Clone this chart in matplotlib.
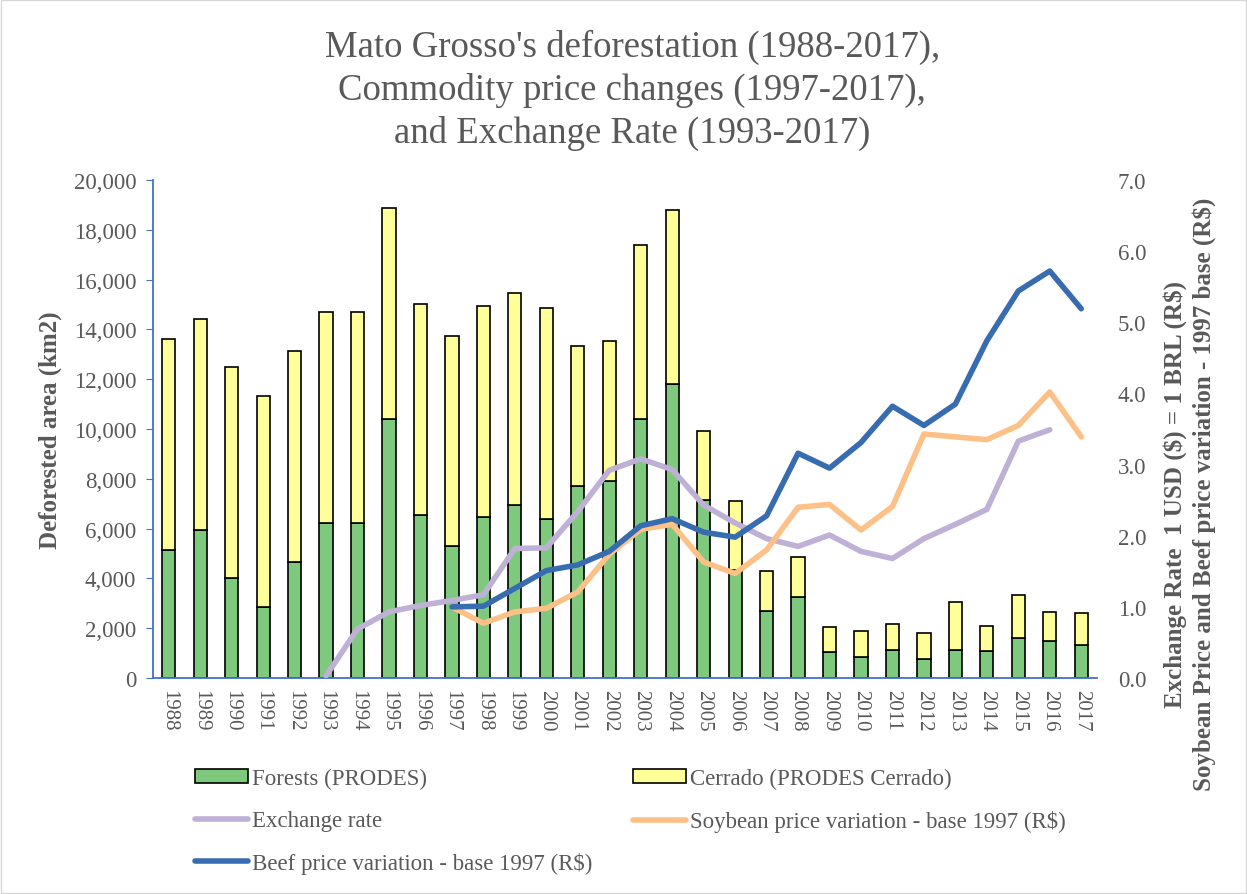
import matplotlib.pyplot as plt
from matplotlib.patches import Rectangle
from matplotlib.ticker import FuncFormatter

plt.rcParams['font.family'] = ['Liberation Serif', 'DejaVu Serif']

years = list(range(1988, 2018))

forests = [5140, 5960, 4030, 2840, 4670, 6210, 6210, 10400, 6530, 5290,
           6450, 6960, 6390, 7720, 7900, 10400, 11810, 7160, 4340, 2680,
           3270, 1060, 860, 1120, 750, 1120, 1070, 1590, 1470, 1330]
totals = [13610, 14430, 12500, 11330, 13150, 14700, 14700, 18880, 15020, 13750,
          14940, 15450, 14850, 13330, 13520, 17380, 18810, 9910, 7100, 4310,
          4870, 2060, 1870, 2160, 1810, 3040, 2090, 3350, 2650, 2600]
cerrado = [t - f for t, f in zip(totals, forests)]

exch_years = list(range(1993, 2017))
exchange = [0.03, 0.69, 0.93, 1.02, 1.09, 1.17, 1.82, 1.83, 2.34, 2.92, 3.08, 2.93,
            2.43, 2.18, 1.96, 1.85, 2.01, 1.78, 1.68, 1.96, 2.16, 2.37, 3.33, 3.49]

price_years = list(range(1997, 2018))
soybean = [1.0, 0.77, 0.93, 0.98, 1.21, 1.74, 2.09, 2.16, 1.63, 1.47, 1.80,
           2.40, 2.44, 2.08, 2.41, 3.43, 3.39, 3.35, 3.55, 4.02, 3.39]
beef = [1.0, 1.01, 1.26, 1.51, 1.59, 1.78, 2.14, 2.24, 2.05, 1.98, 2.28,
        3.16, 2.95, 3.31, 3.82, 3.55, 3.85, 4.74, 5.44, 5.72, 5.19]

gray = '#595959'
axis_blue = '#4472C4'

fig = plt.figure(figsize=(12.47, 8.95), dpi=100)
fig.patches.append(Rectangle((0.001, 0.001), 0.998, 0.998, transform=fig.transFigure,
                             fill=False, edgecolor='#D9D9D9', linewidth=1))

ax = fig.add_axes([0.1227, 0.2413, 0.7570, 0.5565])
x = list(range(len(years)))
ax.bar(x, forests, width=0.42, color='#7FC97F', edgecolor='black', linewidth=1.2,
       label='Forests (PRODES)', zorder=2)
ax.bar(x, cerrado, bottom=forests, width=0.42, color='#FFFF99', edgecolor='black',
       linewidth=1.2, label='Cerrado (PRODES Cerrado)', zorder=2)

ax.set_xlim(-0.5, len(years) - 0.5)
ax.set_ylim(0, 20000)
ax.set_yticks(range(0, 20001, 2000))
ax.yaxis.set_major_formatter(FuncFormatter(lambda v, p: f'{int(v):,}'))
ax.set_xticks(x)
ax.set_xticklabels([str(y) for y in years], rotation=-90)
ax.tick_params(axis='x', length=0, labelsize=15, labelcolor=gray, pad=8)
ax.tick_params(axis='y', length=5, color=axis_blue, labelsize=16.5, labelcolor=gray, pad=7)
for s in ['top', 'right']:
    ax.spines[s].set_visible(False)
ax.spines['left'].set_color(axis_blue)
ax.spines['bottom'].set_color(axis_blue)
ax.spines['left'].set_linewidth(1.3)
ax.spines['bottom'].set_linewidth(1.3)
ax.set_ylabel('Deforested area (km2)', fontsize=18, fontweight='bold', color=gray)
ax.yaxis.set_label_coords(-0.096, 0.5)

ax2 = ax.twinx()
idx = {y: i for i, y in enumerate(years)}
ax2.plot([idx[y] for y in exch_years], exchange, color='#BFB0D6', linewidth=4,
         solid_capstyle='round', solid_joinstyle='round', label='Exchange rate', zorder=3)
ax2.plot([idx[y] for y in price_years], soybean, color='#FDC086', linewidth=4,
         solid_capstyle='round', solid_joinstyle='round',
         label='Soybean price variation - base 1997 (R\\$)', zorder=3)
ax2.plot([idx[y] for y in price_years], beef, color='#386CB0', linewidth=4,
         solid_capstyle='round', solid_joinstyle='round',
         label='Beef price variation - base 1997 (R\\$)', zorder=4)
ax2.set_ylim(0, 7)
ax2.set_yticks([i for i in range(8)])
ax2.yaxis.set_major_formatter(FuncFormatter(lambda v, p: f'{v:.1f}'))
ax2.tick_params(axis='y', length=0, labelsize=16.5, labelcolor=gray, pad=15)
for s in ['top', 'right', 'left', 'bottom']:
    ax2.spines[s].set_visible(False)
ax2.set_ylabel('Exchange Rate  1 USD (\\$) = 1 BRL (R\\$)\n'
               'Soybean Price and Beef price variation - 1997 base (R\\$)',
               fontsize=18, fontweight='bold', color=gray, linespacing=1.3)
ax2.yaxis.set_label_coords(1.07, 0.37)

fig.text(0.507, 0.967, "Mato Grosso's deforestation (1988-2017),\n"
         "Commodity price changes (1997-2017),\n"
         "and Exchange Rate (1993-2017)",
         ha='center', va='top', fontsize=26.5, color=gray, linespacing=1.3)

h1, l1 = ax.get_legend_handles_labels()
h2, l2 = ax2.get_legend_handles_labels()
# column-major fill: col1 = Forests, Exchange, Beef; col2 = Cerrado, Soybean
handles = [h1[0], h2[0], h2[2], h1[1], h2[1]]
labels = [l1[0], l2[0], l2[2], l1[1], l2[1]]
fig.legend(handles, labels, ncol=2, loc='upper left', bbox_to_anchor=(0.1564, 0.1404),
           frameon=False, fontsize=16.5, labelcolor=gray, handlelength=2.3,
           handleheight=0.55, handletextpad=0.2, columnspacing=1.76, labelspacing=0.9,
           borderpad=0, borderaxespad=0)

fig.savefig('out.png', dpi=100)
